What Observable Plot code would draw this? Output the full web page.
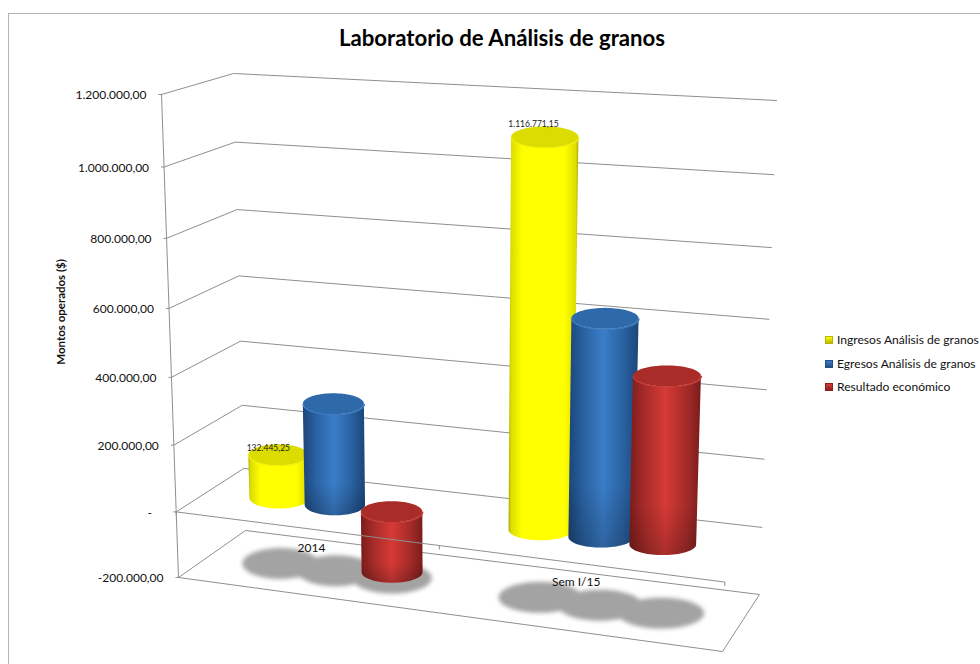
<!DOCTYPE html>
<html lang="es">
<head>
<meta charset="utf-8">
<script src="https://cdn.jsdelivr.net/npm/d3@7"></script>
<script src="https://cdn.jsdelivr.net/npm/@observablehq/plot@0.6"></script>
<style>
html,body{margin:0;padding:0;background:#fff;overflow:hidden}
#wrap{position:relative;width:980px;height:664px;font-family:Lato,"Open Sans",sans-serif;color:#111}
#wrap svg{position:absolute;left:0;top:0;background:transparent}
#edge{position:absolute;left:8px;top:13px;right:0;bottom:-4px;border-left:1.5px solid #b4b4b4;border-top:1.5px solid #b4b4b4}
#title{position:absolute;left:0;width:1004px;top:25px;text-align:center;font-weight:700;font-size:22.2px;line-height:26px;color:#000}
#legend{position:absolute;left:825px;top:328px;font-size:12.1px;line-height:24px;white-space:nowrap}
#legend div{display:flex;align-items:center;height:23.7px}
#legend i{display:inline-block;width:8px;height:8px;margin-right:4px;box-sizing:border-box;border:1px solid}
</style>
</head>
<body>
<div id="wrap">
  <div id="edge"></div>
  <div id="title">Laboratorio de Análisis de granos</div>
  <div id="chart"></div>
  <div id="legend"></div>
</div>
<script>
// ---- data ----
const categories = ["2014", "Sem I/15"];
const seriesNames = ["Ingresos Análisis de granos", "Egresos Análisis de granos", "Resultado económico"];
const ingresos = [132445.25, 1116771.15];
const egresos = [305000, 630000];
const resultado = [-185000, 485000];
const yTicks = [-200000, 0, 200000, 400000, 600000, 800000, 1000000, 1200000];
const yTickLabels = ["-200.000,00", "-\u00a0\u00a0\u00a0", "200.000,00", "400.000,00", "600.000,00", "800.000,00", "1.000.000,00", "1.200.000,00"];
const dataLabels = ["132.445,25", "1.116.771,15"];
const yTitle = "Montos operados ($)";

// ---- 3D box of the chart: projection of (category, depth, value) ----
const vMin = -200000, vMax = 1200000;
const box = {
  fl: [[178, 577], [161, 94]],
  fr: [[722, 651], [739, 140]],
  bl: [[245, 530], [233, 73]],
  br: [[759, 594], [776, 100]]
};
const persp = (t, k) => t / (t + k * (1 - t));
const mix = (a, b, t) => a + (b - a) * t;
function P(c, d, v) {
  const sv = persp((v - vMin) / (vMax - vMin), 1.06), sc = persp(c, 1.085);
  const at = (e, i) => mix(e[0][i], e[1][i], sv);
  const pick = i => mix(mix(at(box.fl, i), at(box.fr, i), sc), mix(at(box.bl, i), at(box.br, i), sc), d);
  return [pick(0), pick(1)];
}
const catCenter = [0.25, 0.75], seriesOffset = [-0.11, 0, 0.11], barHalf = 0.059, depth = 0.5, capRy = 10.5;
const catLabelAt = [0.262, 0.745];
const valueLabelLift = [7, 13], valueLabelShift = [32, 37];
const seriesValues = [ingresos, egresos, resultado];
const seriesKeys = ["yellow", "blue", "red"];

const bars = [];
categories.forEach((cat, i) => seriesValues.forEach((vals, s) => {
  const c = catCenter[i] + seriesOffset[s], v = vals[i];
  const hi = Math.max(v, 0), lo = Math.min(v, 0);
  const rx = y => (P(c + barHalf, depth, y)[0] - P(c - barHalf, depth, y)[0]) / 2;
  bars.push({id: `${i}-${s}`, key: seriesKeys[s], c, v, hi, lo, top: P(c, depth, hi), bot: P(c, depth, lo),
    rTop: rx(hi), rBot: rx(lo), shadow: P(c, depth, vMin), rShadow: rx(vMin) * 1.3});
}));
const thetas = d3.range(0, 41).map(i => Math.PI * (1 - i / 40));
const bodyRows = b => thetas.map(t => ({id: b.id, x1: b.bot[0] + b.rBot * Math.cos(t), y1: b.bot[1] + capRy * Math.sin(t),
  x2: b.top[0] + b.rTop * Math.cos(t), y2: b.top[1] + capRy * Math.sin(t)}));
const capRows = b => thetas.map(t => ({id: b.id, x: b.top[0] + b.rTop * Math.cos(t), y1: b.top[1] - capRy * Math.sin(t), y2: b.top[1] + capRy * Math.sin(t)}));
const shadowRows = b => thetas.map(t => ({id: b.id, x: b.shadow[0] + b.rShadow * Math.cos(t), y1: b.shadow[1] + 1 - 15.5 * Math.sin(t), y2: b.shadow[1] + 1 + 15.5 * Math.sin(t)}));

// ---- grid ----
const gridRows = yTicks.filter(v => v >= 0).flatMap(v => [[0, 0], [0, 1], [1, 1]].map(([c, d]) => ({v, p: P(c, d, v)})));
const floorRows = [[0, 0], [0, 1], [1, 1], [1, 0], [0, 0]].map(([c, d]) => ({p: P(c, d, vMin)}));
const frontRows = [0, 1].map(c => ({p: P(c, 0, 0)}));
const axisRows = [vMin, vMax].map(v => ({p: P(0, 0, v)}));
const tickRows = yTicks.map((v, i) => ({p: P(0, 0, v), label: yTickLabels[i]}));
const catTickRows = [0, 0.5, 1].map(c => ({p: P(c, 0, 0)}));
const catRows = categories.map((label, i) => ({label, p: P(catLabelAt[i], 0, 0)}));
const valueRows = dataLabels.map((label, i) => ({label, x: bars[i * 3].top[0] - valueLabelShift[i], y: bars[i * 3].top[1] - valueLabelLift[i]}));
const titleRow = [{label: yTitle, p: P(0, 0, 590000)}];

const grad = {
  yellow: [[0,"#a8a800"],[.035,"#dcdc00"],[.2,"#ffff00"],[.8,"#ffff00"],[.965,"#dcdc00"],[1,"#a8a800"]],
  blue: [[0,"#1b4578"],[.22,"#2a62a2"],[.5,"#3a7dc8"],[.78,"#2a62a2"],[1,"#1b4578"]],
  red: [[0,"#7a1c1b"],[.2,"#a42b29"],[.5,"#d63a36"],[.8,"#a42b29"],[1,"#7a1c1b"]]
};
const capColor = {yellow: "#dcdc00", blue: "#2e69a9", red: "#a92c29"};
const rimColor = {yellow: "#f2f200", blue: "#3b7cc4", red: "#c93a36"};

function defs() {
  const g = d3.create("svg:defs");
  for (const k of seriesKeys) {
    const lg = g.append("linearGradient").attr("id", `g-${k}`).attr("x1", 0).attr("x2", 1).attr("y1", 0).attr("y2", 0);
    grad[k].forEach(([o, col]) => lg.append("stop").attr("offset", o).attr("stop-color", col));
  }
  const sh = g.append("linearGradient").attr("id", "g-base").attr("x1", 0).attr("x2", 0).attr("y1", 0).attr("y2", 1);
  [[0, 0], [.72, 0], [1, .2]].forEach(([o, a]) => sh.append("stop").attr("offset", o).attr("stop-color", "#000").attr("stop-opacity", a));
  return g.node();
}

const X = d => d.p[0], Y = d => d.p[1];
const marks = [defs,
  Plot.line(gridRows, {x: X, y: Y, z: "v", stroke: "#8f8f8f", strokeWidth: 1}),
  Plot.line(floorRows, {x: X, y: Y, stroke: "#8f8f8f", strokeWidth: 1}),
  Plot.line(axisRows, {x: X, y: Y, stroke: "#8f8f8f", strokeWidth: 1}),
  Plot.link(tickRows, {x1: d => d.p[0] - 3, y1: Y, x2: X, y2: Y, stroke: "#8f8f8f", strokeWidth: 1}),
  Plot.text(tickRows, {x: X, y: Y, text: "label", textAnchor: "end", dx: -15, dy: 1, fontSize: 12, fill: "#111"}),
  Plot.text(titleRow, {x: X, y: Y, text: "label", rotate: -90, dx: -108, fontSize: 11.5, fontWeight: 700, fill: "#111"}),
  Plot.area(bars.flatMap(shadowRows), {x1: "x", y1: "y1", y2: "y2", z: "id", fill: "#a3a3a3", imageFilter: "blur(2px)"})
];
for (const b of bars) {
  const body = bodyRows(b), cap = capRows(b);
  marks.push(Plot.area(body, {x1: "x1", y1: "y1", x2: "x2", y2: "y2", fill: `url(#g-${b.key})`}));
  if (b.key !== "yellow") marks.push(Plot.area(body, {x1: "x1", y1: "y1", x2: "x2", y2: "y2", fill: "url(#g-base)"}));
  marks.push(
    Plot.area(cap, {x1: "x", y1: "y1", y2: "y2", fill: capColor[b.key]}),
    Plot.line(cap, {x: "x", y: "y2", stroke: rimColor[b.key], strokeWidth: 1.2})
  );
}
marks.push(
  Plot.line(frontRows, {x: X, y: Y, stroke: "#8f8f8f", strokeWidth: 1}),
  Plot.link(catTickRows, {x1: X, y1: Y, x2: X, y2: d => d.p[1] + 4, stroke: "#8f8f8f", strokeWidth: 1}),
  Plot.text(catRows, {x: X, y: Y, text: "label", dy: 19, fontSize: 12, fill: "#111"}),
  Plot.text(valueRows, {x: "x", y: "y", text: "label", textAnchor: "start", fontSize: 8.5, fill: "#222"})
);

const chart = Plot.plot({
  width: 980, height: 664, margin: 0,
  style: {fontFamily: "Lato, 'Open Sans', sans-serif", background: "transparent"},
  x: {domain: [0, 980], range: [0, 980], axis: null},
  y: {domain: [0, 664], range: [0, 664], axis: null},
  marks
});
document.getElementById("chart").append(chart);

const swatch = {yellow: ["#ffff00", "#b5b500"], blue: ["#3a7dc8", "#224f86"], red: ["#d63a36", "#8a2120"]};
const legend = d3.select("#legend");
seriesNames.forEach((name, s) => {
  const row = legend.append("div");
  const [a, b] = swatch[seriesKeys[s]];
  row.append("i").style("background", `linear-gradient(${a},${b})`).style("border-color", b);
  row.append("span").text(name);
});
</script>
</body>
</html>
